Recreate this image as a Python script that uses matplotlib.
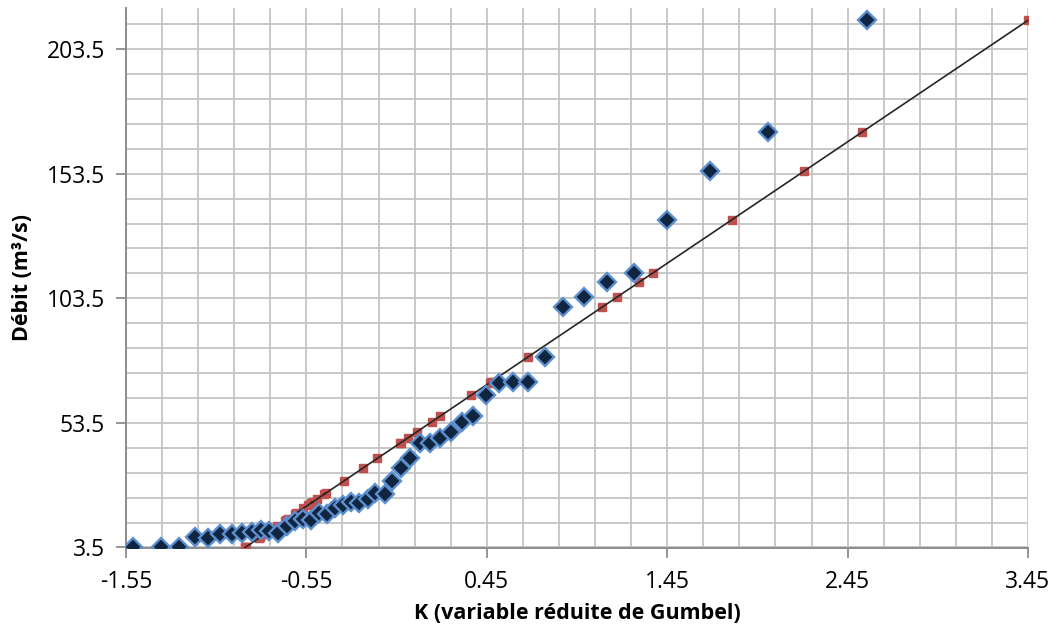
#!/usr/bin/env python3

import numpy as np
import matplotlib
matplotlib.use("Agg")
import matplotlib.pyplot as plt

# observed flows (blue diamonds) against empirical Gumbel variable K
k_obs = [-1.510, -1.356, -1.255, -1.168, -1.094, -1.027, -0.964, -0.909,
         -0.853, -0.804, -0.756, -0.706, -0.660, -0.613, -0.569, -0.526,
         -0.480, -0.434, -0.392, -0.347, -0.303, -0.258, -0.211, -0.167,
         -0.117, -0.075, -0.028, 0.024, 0.080, 0.135, 0.191, 0.252,
         0.313, 0.375, 0.446, 0.519, 0.597, 0.680, 0.773, 0.874,
         0.989, 1.118, 1.268, 1.451, 1.687, 2.009, 2.559]
q_obs = [3.5, 3.5, 3.8, 7.6, 7.2, 8.8, 8.9, 9.3,
         9.85, 10.6, 10.3, 9.2, 12.1, 14.3, 15.1, 14.5,
         17.2, 17.0, 19.2, 20.6, 21.9, 21.25, 22.8, 25.3,
         24.8, 30.2, 35.3, 39.3, 45.3, 45.6, 47.4, 50.0,
         53.9, 56.3, 64.5, 69.7, 70.1, 70.1, 79.9, 100.0,
         103.9, 110.0, 113.7, 135.0, 154.4, 170.1, 215.0]

# fitted Gumbel line points (red squares), same flows
k_fit = [-0.890, -0.890, -0.884, -0.806, -0.814, -0.781, -0.779, -0.771,
         -0.760, -0.744, -0.750, -0.773, -0.714, -0.668, -0.652, -0.664,
         -0.609, -0.613, -0.568, -0.539, -0.513, -0.526, -0.494, -0.443,
         -0.453, -0.342, -0.238, -0.156, -0.032, -0.026, 0.011, 0.064,
         0.144, 0.193, 0.361, 0.468, 0.476, 0.476, 0.677, 1.090,
         1.170, 1.295, 1.371, 1.808, 2.206, 2.528, 3.449]
q_fit = q_obs

x_ticks = [-1.55, -0.55, 0.45, 1.45, 2.45, 3.45]
y_ticks = [3.5, 53.5, 103.5, 153.5, 203.5]

plt.rcParams['font.family'] = ['Open Sans', 'DejaVu Sans']

fig = plt.figure(figsize=(10.55, 6.32), dpi=100)
ax = fig.add_axes([126 / 1055, 1 - 547.5 / 632, 902 / 1055, 539.5 / 632])

ax.set_xlim(-1.55, 3.45)
ax.set_ylim(3.5, 220)

ax.set_xticks(x_ticks)
ax.set_xticklabels([f"{t:.2f}" for t in x_ticks])
ax.set_xticks(np.round(np.arange(-1.55, 3.46, 0.2), 2), minor=True)
ax.set_yticks(y_ticks)
ax.set_yticklabels([f"{t:.1f}" for t in y_ticks])
ax.set_yticks(np.round(np.arange(3.5, 214, 10), 1), minor=True)

ax.grid(True, which='both', color='#c4c4c4', linewidth=1.3, zorder=0)
ax.set_axisbelow(True)
ax.tick_params(which='minor', length=0)
ax.tick_params(which='major', length=7, width=1.3, color='#8c8c8c',
               labelsize=16.5)
ax.tick_params(axis='x', pad=9)
ax.tick_params(axis='y', pad=8)

for side in ['top', 'right']:
    ax.spines[side].set_visible(False)
for side in ['left', 'bottom']:
    ax.spines[side].set_color('#8c8c8c')
    ax.spines[side].set_linewidth(1.4)

ax.plot(k_fit, q_fit, linestyle='none', marker='s', markersize=5.5,
        color='#c0504d', markeredgecolor='#c0504d', zorder=3)
ax.plot(k_fit, q_fit, color='#262626', linewidth=1.2, zorder=4)
ax.plot(k_obs, q_obs, linestyle='none', marker='D', markersize=9.5,
        markerfacecolor='#10253f', markeredgecolor='#5b8fcf',
        markeredgewidth=1.7, zorder=5)

ax.set_xlabel('K (variable réduite de Gumbel)', fontsize=15.5, fontweight='bold',
              labelpad=7)
ax.set_ylabel('Débit (m³/s)', fontsize=15.5, fontweight='bold', labelpad=10)

fig.savefig('out.png', dpi=100)
